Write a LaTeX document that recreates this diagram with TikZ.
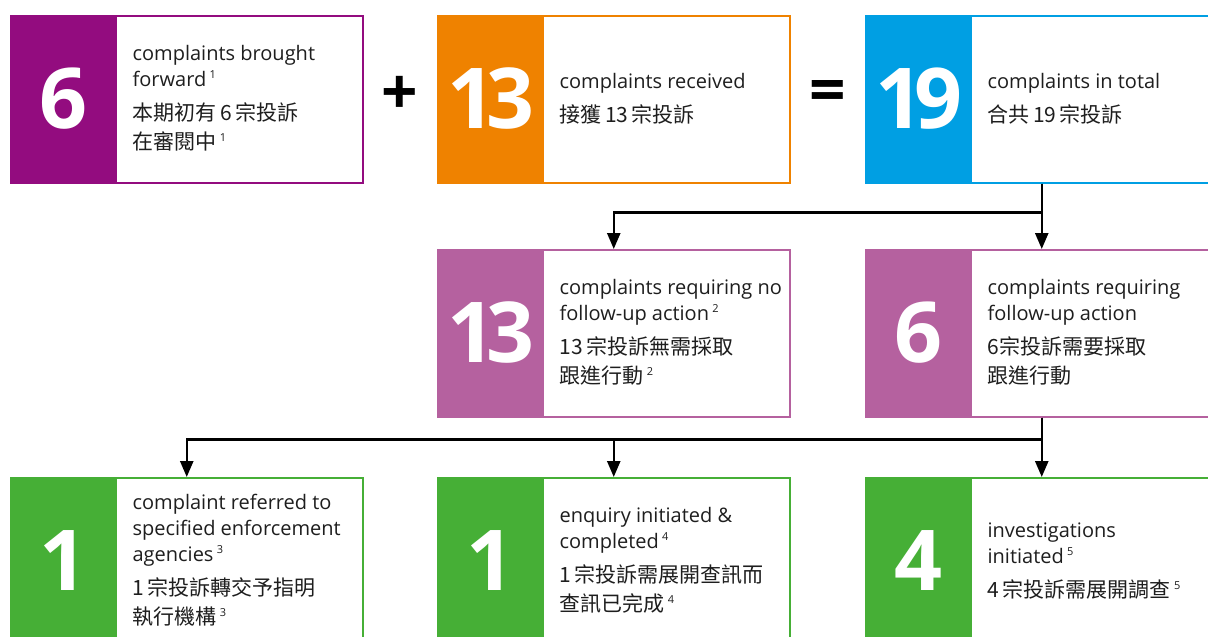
\documentclass[tikz,border=0pt]{standalone}
\usepackage{fontspec}
\setmainfont{Open Sans}
\newfontfamily\cjk{Noto Sans CJK TC}
\usetikzlibrary{arrows.meta}
\definecolor{cpurple}{HTML}{930C7F}
\definecolor{corange}{HTML}{EF8200}
\definecolor{cblue}{HTML}{009FE3}
\definecolor{cpink}{HTML}{B5619F}
\definecolor{cgreen}{HTML}{46AF36}
\definecolor{ctext}{HTML}{1E1E1E}
\newcommand\fnote[1]{\,\raisebox{8pt}{\fontsize{11}{11}\selectfont #1}}
\newcommand\zh[1]{{\cjk\fontsize{21}{26}\selectfont #1}}
\newcommand\twodig[2]{#1\kern-9pt#2}
\tikzset{
  box/.style={draw=#1, line width=1.5pt, fill=white, minimum width=352pt, minimum height=167pt, inner sep=0pt, anchor=north west},
  numpart/.style={fill=#1, minimum width=107pt, minimum height=167pt, inner sep=0pt, anchor=north west},
  bignum/.style={text=white, inner sep=0pt, font=\fontsize{84}{84}\selectfont\bfseries},
  desc/.style={anchor=west, align=left, text=ctext, inner sep=0pt, font=\fontsize{20}{26}\selectfont},
  opsign/.style={text=black, inner sep=0pt, font=\fontsize{64}{64}\selectfont\bfseries},
  conn/.style={line width=2.5pt, draw=black, -{Triangle[width=13pt,length=16pt]}}
}
\begin{document}
\begin{tikzpicture}[x=1pt,y=-1pt]
\useasboundingbox[fill=white] (0,0) rectangle (1208,637);
% row 1
\node[box=cpurple] (fwd) at (10,15) {};
\node[numpart=cpurple] (fwdn) at (fwd.north west) {};
\node[bignum] (fwdnum) at (fwdn.center) {6};
\node[desc] (fwdtxt) at ([xshift=15pt]fwdn.east) {complaints brought\\ forward\fnote{1}\\[8pt] \zh{本期初有\,6\,宗投訴}\\[3pt] \zh{在審閱中}\fnote{1}};

\node[box=corange] (rec) at (437,15) {};
\node[numpart=corange] (recn) at (rec.north west) {};
\node[bignum] (recnum) at (recn.center) {\twodig{1}{3}};
\node[desc] (rectxt) at ([xshift=15pt]recn.east) {complaints received\\[8pt] \zh{接獲\,13\,宗投訴}};

\node[box=cblue] (total) at (865,15) {};
\node[numpart=cblue] (totaln) at (total.north west) {};
\node[bignum] (totalnum) at (totaln.center) {\twodig{1}{9}};
\node[desc] (totaltxt) at ([xshift=15pt]totaln.east) {complaints in total\\[8pt] \zh{合共\,19\,宗投訴}};

\node[opsign] (plus) at (400,95) {+};
\node[opsign] (equals) at (828,96) {=};

% row 2
\node[box=cpink] (noact) at (437,249) {};
\node[numpart=cpink] (noactn) at (noact.north west) {};
\node[bignum] (noactnum) at (noactn.center) {\twodig{1}{3}};
\node[desc] (noacttxt) at ([xshift=15pt]noactn.east) {complaints requiring no\\ follow-up action\fnote{2}\\[8pt] \zh{13\,宗投訴無需採取}\\[3pt] \zh{跟進行動}\fnote{2}};

\node[box=cpink] (follow) at (865,249) {};
\node[numpart=cpink] (follown) at (follow.north west) {};
\node[bignum] (follownum) at (follown.center) {6};
\node[desc] (followtxt) at ([xshift=15pt]follown.east) {complaints requiring\\ follow-up action\\[8pt] \zh{6宗投訴需要採取}\\[3pt] \zh{跟進行動}};

% row 3
\node[box=cgreen] (refer) at (10,477) {};
\node[numpart=cgreen] (refern) at (refer.north west) {};
\node[bignum] (refernum) at (refern.center) {1};
\node[desc] (refertxt) at ([xshift=15pt]refern.east) {complaint referred to\\ specified enforcement\\ agencies\fnote{3}\\[8pt] \zh{1\,宗投訴轉交予指明}\\[3pt] \zh{執行機構}\fnote{3}};

\node[box=cgreen] (enq) at (437,477) {};
\node[numpart=cgreen] (enqn) at (enq.north west) {};
\node[bignum] (enqnum) at (enqn.center) {1};
\node[desc] (enqtxt) at ([xshift=15pt]enqn.east) {enquiry initiated \&\\ completed\fnote{4}\\[8pt] \zh{1\,宗投訴需展開查訊而}\\[3pt] \zh{查訊已完成}\fnote{4}};

\node[box=cgreen] (inv) at (865,477) {};
\node[numpart=cgreen] (invn) at (inv.north west) {};
\node[bignum] (invnum) at (invn.center) {4};
\node[desc] (invtxt) at ([xshift=15pt]invn.east) {investigations\\ initiated\fnote{5}\\[8pt] \zh{4\,宗投訴需展開調查}\fnote{5}};

% connectors
\draw[conn] (total.south) -- (follow.north);
\draw[conn] (total.south) -- ++(0,29) -| (noact.north);
\draw[conn] (follow.south) -- (inv.north);
\draw[conn] (follow.south) -- ++(0,22) -| (enq.north);
\draw[conn] (follow.south) -- ++(0,22) -| (refer.north);
\end{tikzpicture}
\end{document}
